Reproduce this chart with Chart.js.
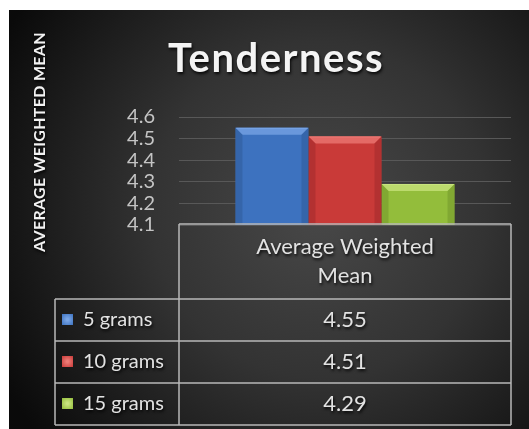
<!DOCTYPE html>
<html>
<head>
<meta charset="utf-8">
<script src="https://cdn.jsdelivr.net/npm/chart.js@4.4.1/dist/chart.umd.min.js"></script>
<style>
  body { margin: 0; background: #fff; }
  #wrap { position: absolute; left: 9px; top: 10px; width: 520px; height: 419px; }
</style>
</head>
<body>
<div id="wrap"><canvas id="chart" width="520" height="419"></canvas></div>
<script>
// data
const chartTitle = 'Tenderness';
const axisTitle = 'AVERAGE WEIGHTED MEAN';
const categories = [['Average Weighted', 'Mean']];
const seriesNames = ['5 grams', '10 grams', '15 grams'];
const seriesValues = [4.55, 4.51, 4.29];
const tickValues = [4.1, 4.2, 4.3, 4.4, 4.5, 4.6];

const barColors = ['#3d72bf', '#c93a38', '#93bd3b'];
const barLight = ['#79a6e6', '#ec7b76', '#c9e47f'];
const barDark = ['#2c5690', '#98282a', '#6c8f27'];

const FONT = 'Lato, "Open Sans", sans-serif';

// dark radial background
const bgPlugin = {
    id: 'bg',
    beforeDraw: function (chart) {
        const ctx = chart.ctx;
        const g = ctx.createRadialGradient(310, 200, 10, 310, 200, 360);
        g.addColorStop(0, '#474747');
        g.addColorStop(0.45, '#333333');
        g.addColorStop(1, '#0a0a0a');
        ctx.save();
        ctx.fillStyle = g;
        ctx.fillRect(0, 0, chart.width, chart.height);
        ctx.restore();
    }
};

// bevel look on the bars
const bevelPlugin = {
    id: 'bevel',
    afterDatasetsDraw: function (chart) {
        const ctx = chart.ctx;
        chart.data.datasets.forEach(function (ds, i) {
            const bar = chart.getDatasetMeta(i).data[0];
            const l = bar.x - bar.width / 2, r = bar.x + bar.width / 2;
            const t = bar.y, b = Math.min(bar.base, chart.chartArea.bottom);
            const e = 7;
            ctx.save();
            ctx.fillStyle = barLight[i];
            ctx.globalAlpha = 0.75;
            ctx.beginPath();
            ctx.moveTo(l, t); ctx.lineTo(r, t); ctx.lineTo(r - e, t + e); ctx.lineTo(l + e, t + e);
            ctx.closePath(); ctx.fill();
            ctx.fillStyle = barDark[i];
            ctx.globalAlpha = 0.45;
            ctx.beginPath();
            ctx.moveTo(l, t); ctx.lineTo(l + e, t + e); ctx.lineTo(l + e, b); ctx.lineTo(l, b);
            ctx.closePath(); ctx.fill();
            ctx.beginPath();
            ctx.moveTo(r, t); ctx.lineTo(r - e, t + e); ctx.lineTo(r - e, b); ctx.lineTo(r, b);
            ctx.closePath(); ctx.fill();
            ctx.globalAlpha = 1;
            ctx.strokeStyle = barLight[i];
            ctx.lineWidth = 1;
            ctx.beginPath(); ctx.moveTo(l + 1, t + 0.5); ctx.lineTo(r - 1, t + 0.5); ctx.stroke();
            ctx.restore();
        });
    }
};

function shadowText(ctx) {
    ctx.shadowColor = 'rgba(0,0,0,0.85)';
    ctx.shadowBlur = 3;
    ctx.shadowOffsetX = 1;
    ctx.shadowOffsetY = 2;
}

// title, axis title and data table
const textPlugin = {
    id: 'texts',
    afterDraw: function (chart) {
        const ctx = chart.ctx;
        const area = chart.chartArea;

        ctx.save();
        shadowText(ctx);
        ctx.fillStyle = '#f4f4f4';
        ctx.font = 'bold 40px ' + FONT;
        ctx.letterSpacing = '1.5px';
        ctx.textAlign = 'center';
        ctx.textBaseline = 'alphabetic';
        ctx.fillText(chartTitle, 267, 62);
        ctx.restore();

        ctx.save();
        ctx.translate(31, 242);
        ctx.rotate(-Math.PI / 2);
        shadowText(ctx);
        ctx.fillStyle = '#f2f2f2';
        ctx.font = 'bold 16px ' + FONT;
        ctx.letterSpacing = '0.3px';
        ctx.textAlign = 'left';
        ctx.textBaseline = 'middle';
        ctx.fillText(axisTitle, 0, 0);
        ctx.restore();

        // table grid
        const top = area.bottom - 1;
        const headH = 75, rowH = 42;
        const colL = 46, colM = area.left, colR = area.right;
        const bottom = top + headH + rowH * seriesNames.length;
        ctx.save();
        ctx.strokeStyle = '#b8b8b8';
        ctx.lineWidth = 1.5;
        ctx.beginPath();
        ctx.moveTo(colM, top); ctx.lineTo(colR, top);
        ctx.moveTo(colM, top); ctx.lineTo(colM, bottom);
        ctx.moveTo(colR, top); ctx.lineTo(colR, bottom);
        for (let i = 0; i <= seriesNames.length; i++) {
            const y = top + headH + rowH * i;
            ctx.moveTo(colL, y); ctx.lineTo(colR, y);
        }
        ctx.moveTo(colL, top + headH); ctx.lineTo(colL, bottom);
        ctx.stroke();
        ctx.restore();

        ctx.save();
        shadowText(ctx);
        ctx.fillStyle = '#e2e2e2';
        ctx.textBaseline = 'middle';
        ctx.textAlign = 'center';
        const cx = (colM + colR) / 2;
        const head = chart.data.labels[0];
        ctx.font = '22px ' + FONT;
        for (let k = 0; k < head.length; k++) {
            ctx.fillText(head[k], cx, top + 23 + k * 29);
        }
        for (let i = 0; i < seriesNames.length; i++) {
            const cy = top + headH + rowH * i + rowH / 2;
            ctx.textAlign = 'center';
            ctx.font = '22px ' + FONT;
            ctx.fillText(seriesValues[i].toFixed(2), cx, cy);
            ctx.textAlign = 'left';
            ctx.font = '20px ' + FONT;
            ctx.fillText(seriesNames[i], 74, cy);
        }
        ctx.restore();

        // legend keys
        for (let i = 0; i < seriesNames.length; i++) {
            const cy = top + headH + rowH * i + rowH / 2;
            const x0 = 53, y0 = cy - 6, s = 11;
            const g = ctx.createRadialGradient(x0 + s / 2, y0 + s / 2, 1, x0 + s / 2, y0 + s / 2, s * 0.7);
            g.addColorStop(0, barLight[i]);
            g.addColorStop(1, barColors[i]);
            ctx.save();
            ctx.fillStyle = g;
            ctx.fillRect(x0, y0, s, s);
            ctx.restore();
        }
    }
};

const ctx = document.getElementById('chart').getContext('2d');
const myChart = new Chart(ctx, {
    type: 'bar',
    data: {
        labels: categories,
        datasets: seriesNames.map(function (name, i) {
            return {
                label: name,
                data: [seriesValues[i]],
                backgroundColor: barColors[i],
                borderWidth: 0,
                categoryPercentage: 0.66,
                barPercentage: 1.0
            };
        })
    },
    options: {
        responsive: false,
        animation: false,
        layout: { padding: { left: 0, right: 18, top: 107, bottom: 204 } },
        plugins: {
            legend: { display: false },
            title: { display: false },
            tooltip: { enabled: false }
        },
        scales: {
            x: { display: false },
            y: {
                min: 4.1,
                max: 4.6,
                afterBuildTicks: function (scale) {
                    scale.ticks = tickValues.map(function (v) { return { value: v }; });
                },
                afterFit: function (scale) { scale.width = 170; },
                border: { display: false },
                grid: { color: '#585858', lineWidth: 1, drawTicks: false },
                ticks: {
                    autoSkip: false,
                    padding: 24,
                    color: '#c4c4c4',
                    font: { family: FONT, size: 20 },
                    callback: function (v) { return v.toFixed(1); }
                }
            }
        }
    },
    plugins: [bgPlugin, bevelPlugin, textPlugin]
});
</script>
</body>
</html>
